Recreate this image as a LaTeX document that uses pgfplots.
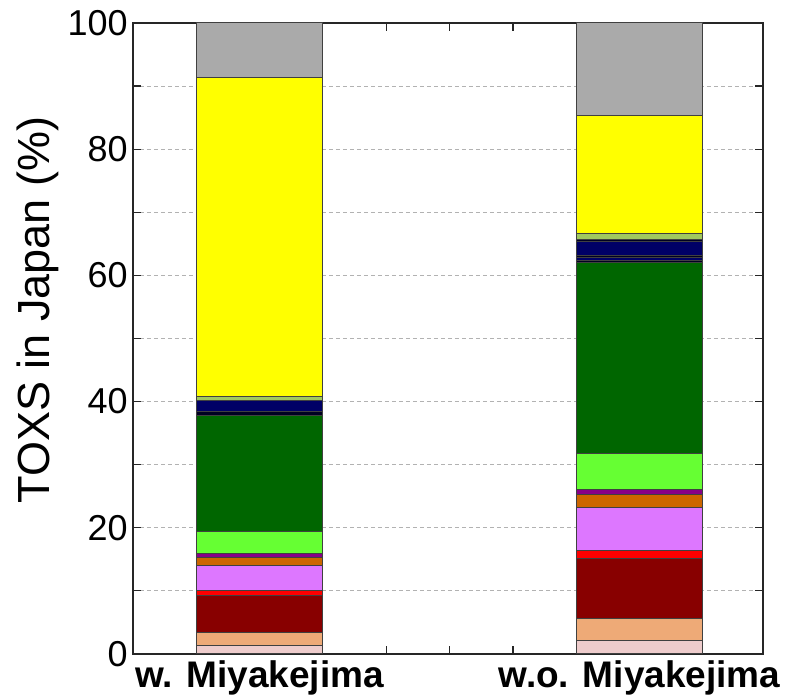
\documentclass[border=0pt]{standalone}
\usepackage{pgfplots}
\pgfplotsset{compat=1.18}
\usepackage{fontspec}
\setmainfont{Liberation Sans}
\definecolor{cpink}{HTML}{EECCCC}
\definecolor{cpeach}{HTML}{EEAA77}
\definecolor{cdred}{HTML}{880000}
\definecolor{cred}{HTML}{FF0000}
\definecolor{cviol}{HTML}{DD77FF}
\definecolor{corng}{HTML}{CC6600}
\definecolor{cpurp}{HTML}{880088}
\definecolor{clgrn}{HTML}{66FF33}
\definecolor{cdgrn}{HTML}{006600}
\definecolor{cblk}{HTML}{000022}
\definecolor{cnavy}{HTML}{000066}
\definecolor{colive}{HTML}{A0C860}
\definecolor{cyell}{HTML}{FFFF00}
\definecolor{cgray}{HTML}{AAAAAA}
\begin{document}
\begin{tikzpicture}
\begin{axis}[
    name=ax,
    scale only axis,
    width=315pt, height=315.5pt,
    ybar stacked, bar width=2,
    xmin=-2, xmax=7.95,
    ymin=0, ymax=100,
    xtick={0,6},
    xticklabels={w. Miyakejima, w.o. Miyakejima},
    extra x ticks={2,3,4},
    extra x tick labels={},
    ytick={0,20,...,100},
    minor ytick={10,30,...,90},
    tick align=inside,
    major tick length=4pt, minor tick length=4pt,
    ymajorgrids, yminorgrids,
    grid style={dash pattern=on 2pt off 1.5pt, gray!60, line width=0.4pt},
    minor grid style={dash pattern=on 2pt off 1.5pt, gray!60, line width=0.4pt},
    extra tick style={grid=none},
    axis line style={line width=1pt, black!85},
    tick style={black!85, line width=0.6pt},
    /pgf/number format/assume math mode=true,
    xticklabel style={font=\fontsize{18.5}{22}\selectfont\bfseries, inner ysep=3pt},
    yticklabel style={font=\fontsize{18}{22}\selectfont, inner xsep=2.5pt},
    ylabel={TOXS in Japan (\%)},
    ylabel style={font=\fontsize{22.5}{26}\selectfont, at={(ticklabel cs:0.545)}, yshift=-1.5pt},
    every axis plot/.append style={draw=black!75, line width=0.5pt},
]
\addplot[fill=cpink]  coordinates {(0,1.3) (6,2.1)};
\addplot[fill=cpeach] coordinates {(0,2.1) (6,3.55)};
\addplot[fill=cdred]  coordinates {(0,5.8) (6,9.45)};
\addplot[fill=cred]   coordinates {(0,0.8) (6,1.35)};
\addplot[fill=cviol]  coordinates {(0,4.1) (6,6.75)};
\addplot[fill=corng]  coordinates {(0,1.2) (6,2.0)};
\addplot[fill=cpurp]  coordinates {(0,0.6) (6,0.9)};
\addplot[fill=clgrn]  coordinates {(0,3.45) (6,5.65)};
\addplot[fill=cdgrn]  coordinates {(0,18.45) (6,30.25)};
\addplot[fill=cblk]   coordinates {(0,0.7) (6,0.3)};
\addplot[fill=cnavy]  coordinates {(0,0) (6,0.6)};
\addplot[fill=cblk]   coordinates {(0,0) (6,0.2)};
\addplot[fill=cnavy]  coordinates {(0,1.6) (6,2.3)};
\addplot[fill=cblk]   coordinates {(0,0) (6,0.3)};
\addplot[fill=colive] coordinates {(0,0.7) (6,1.0)};
\addplot[fill=cyell]  coordinates {(0,50.5) (6,18.6)};
\addplot[fill=cgray]  coordinates {(0,8.7) (6,14.7)};
\end{axis}
\pgfresetboundingbox
\path ([xshift=-66.5pt,yshift=-20.5pt]ax.south west) rectangle ([xshift=11pt,yshift=11.5pt]ax.north east);
\end{tikzpicture}
\end{document}
